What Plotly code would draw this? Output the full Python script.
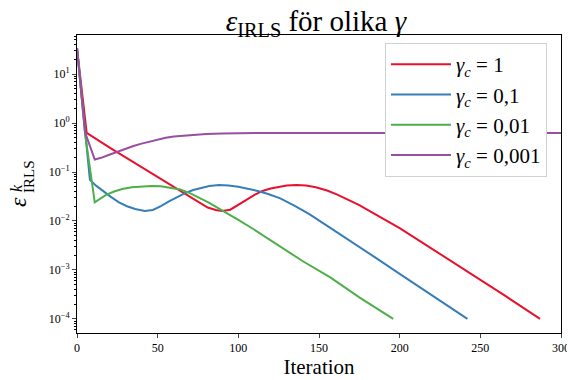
import plotly.graph_objects as go

# ---- data ----
red_k = [0, 6, 20, 40, 60, 70, 76, 81, 86, 90, 95, 100, 105, 110, 115, 120, 125, 130, 136, 142, 148, 155, 161, 167, 175, 182, 190, 200, 222, 244, 265, 287]
red_v = [34, 0.63, 0.32, 0.126, 0.049, 0.031, 0.023, 0.0188, 0.0167, 0.016, 0.017, 0.021, 0.027, 0.034, 0.041, 0.046, 0.050, 0.053, 0.054, 0.053, 0.049, 0.042, 0.035, 0.028, 0.021, 0.0155, 0.011, 0.0071, 0.00245, 0.00085, 0.0003, 0.0001]

blue_k = [0, 5, 8, 12, 16, 21, 26, 31, 36, 42, 47, 52, 57, 62, 67, 72, 77, 82, 88, 94, 100, 106, 112, 118, 126, 135, 144, 157, 170, 185, 200, 220, 242]
blue_v = [34, 0.6, 0.069, 0.052, 0.041, 0.031, 0.024, 0.02, 0.0175, 0.016, 0.0168, 0.02, 0.025, 0.031, 0.037, 0.043, 0.048, 0.052, 0.054, 0.053, 0.05, 0.046, 0.041, 0.036, 0.029, 0.0204, 0.0138, 0.0072, 0.0038, 0.00178, 0.00083, 0.0003, 0.0001]

green_k = [0, 5, 11, 14, 18, 23, 28, 34, 40, 46, 52, 58, 64, 70, 76, 82, 88, 95, 100, 110, 124, 140, 157, 175, 196]
green_v = [34, 0.6, 0.024, 0.028, 0.034, 0.04, 0.045, 0.049, 0.051, 0.052, 0.051, 0.048, 0.044, 0.037, 0.030, 0.0234, 0.0178, 0.0132, 0.0105, 0.0066, 0.0033, 0.0015, 0.0007, 0.000275, 0.0001]

purple_k = [0, 5, 11, 15, 20, 25, 30, 35, 40, 45, 50, 55, 60, 70, 80, 90, 100, 120, 150, 200, 250, 300]
purple_v = [34, 0.65, 0.18, 0.195, 0.225, 0.26, 0.3, 0.34, 0.38, 0.42, 0.46, 0.5, 0.53, 0.57, 0.6, 0.615, 0.625, 0.63, 0.63, 0.63, 0.63, 0.63]

names = ["<i>γ<sub>c</sub></i> = 1", "<i>γ<sub>c</sub></i> = 0,1",
         "<i>γ<sub>c</sub></i> = 0,01", "<i>γ<sub>c</sub></i> = 0,001"]
colors = ["#e8112d", "#377eb8", "#4daf4a", "#984ea3"]

x_ticks = [0, 50, 100, 150, 200, 250, 300]
y_tickvals = [1e-4, 1e-3, 1e-2, 1e-1, 1, 10]
y_ticktext = ["10<sup>−4</sup>", "10<sup>−3</sup>", "10<sup>−2</sup>",
              "10<sup>−1</sup>", "10<sup>0</sup>", "10<sup>1</sup>"]

series = [(red_k, red_v), (blue_k, blue_v), (green_k, green_v), (purple_k, purple_v)]

FONT = "Liberation Serif"
# the page body has an 8px margin, so the figure is drawn 8px right/down
OFF = 8
W, H = 575 - OFF, 380 - OFF
L, R, T, B = 77 - OFF, 14, 35 - OFF, 47
PW, PH = W - L - R, H - T - B


def px(xp):
    return (xp - OFF - L) / PW


def py(yp):
    return (H - B - (yp - OFF)) / PH


fig = go.Figure()
for i, ((k, v), n, c) in enumerate(zip(series, names, colors)):
    fig.add_trace(go.Scatter(x=k, y=v, mode="lines", name=n, legendgroup=str(i),
                             line=dict(color=c, width=2)))

fig.update_layout(
    width=W, height=H,
    margin=dict(l=L, r=R, t=T, b=B),
    paper_bgcolor="white", plot_bgcolor="white",
    font=dict(family=FONT, color="black", size=12),
    title=dict(text="<i>ε</i><sub>IRLS</sub> för olika <i>γ</i>",
               x=px(316), xref="paper", xanchor="center",
               y=1 - (21 - OFF) / H, yanchor="middle",
               font=dict(family=FONT, size=29)),
    showlegend=True,
    legend=dict(x=px(385), y=py(43), xanchor="left", yanchor="top",
                bgcolor="white", bordercolor="#d0d0d0", borderwidth=1,
                font=dict(family=FONT, size=21), itemwidth=60, tracegroupgap=0),
)
# y-axis label: epsilon with stacked superscript k and subscript IRLS
fig.add_annotation(text="<i>ε</i>", xref="paper", yref="paper", x=px(18), y=py(202),
                   xanchor="center", yanchor="middle", borderpad=0,
                   textangle=-90, showarrow=False, font=dict(family=FONT, size=24))
fig.add_annotation(text="<i>k</i>", xref="paper", yref="paper", x=px(16), y=py(188),
                   xanchor="center", yanchor="middle", borderpad=0,
                   textangle=-90, showarrow=False, font=dict(family=FONT, size=16))
fig.add_annotation(text="IRLS", xref="paper", yref="paper", x=px(29), y=py(177),
                   xanchor="center", yanchor="middle", borderpad=0,
                   textangle=-90, showarrow=False, font=dict(family=FONT, size=15))

fig.update_xaxes(range=[0, 300], tickvals=x_ticks, ticks="outside", ticklen=4,
                 showline=True, linecolor="black", linewidth=1, mirror=True,
                 showgrid=False, zeroline=False, automargin=False,
                 tickfont=dict(family=FONT, size=12),
                 title=dict(text="Iteration", font=dict(family=FONT, size=21), standoff=4))
fig.update_yaxes(type="log", range=[-4.29, 1.8], tickvals=y_tickvals, ticktext=y_ticktext,
                 ticks="outside", ticklen=4,
                 minor=dict(ticks="outside", ticklen=2, tickcolor="black", dtick="D1", showgrid=False),
                 showline=True, linecolor="black", linewidth=1, mirror=True,
                 showgrid=False, zeroline=False, automargin=False,
                 tickfont=dict(family=FONT, size=12))

fig.write_html("out.html")
